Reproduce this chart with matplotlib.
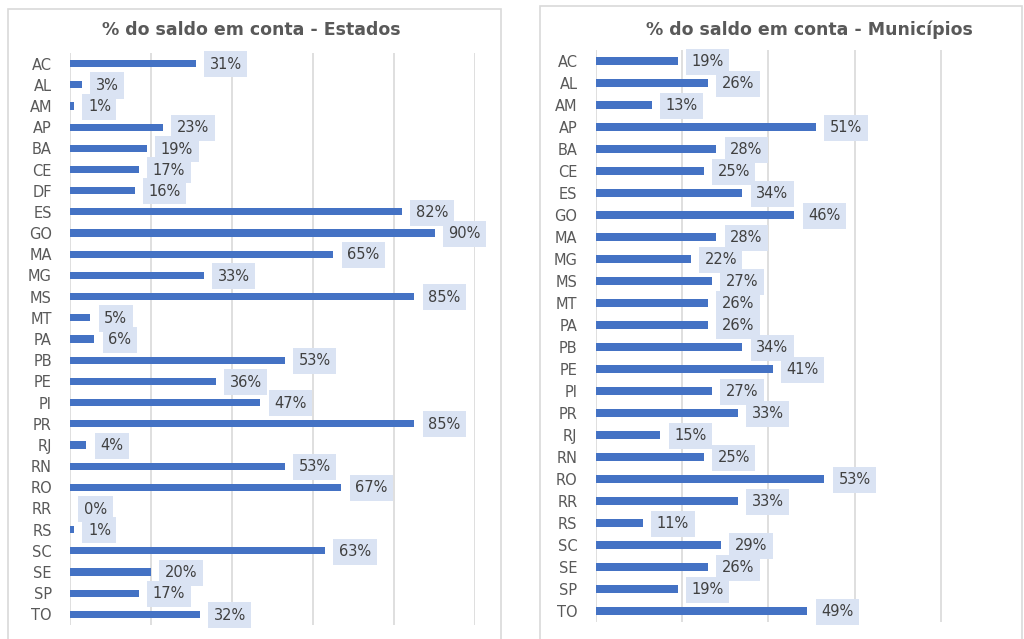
import matplotlib
matplotlib.use("Agg")
import matplotlib.pyplot as plt
from matplotlib.patches import Rectangle

plt.rcParams['font.family'] = ['DejaVu Sans']

# % do saldo em conta - Estados
uf_estados = ['AC', 'AL', 'AM', 'AP', 'BA', 'CE', 'DF', 'ES', 'GO', 'MA', 'MG', 'MS', 'MT', 'PA',
              'PB', 'PE', 'PI', 'PR', 'RJ', 'RN', 'RO', 'RR', 'RS', 'SC', 'SE', 'SP', 'TO']
pct_estados = [31, 3, 1, 23, 19, 17, 16, 82, 90, 65, 33, 85, 5, 6,
               53, 36, 47, 85, 4, 53, 67, 0, 1, 63, 20, 17, 32]

# % do saldo em conta - Municípios
uf_municipios = ['AC', 'AL', 'AM', 'AP', 'BA', 'CE', 'ES', 'GO', 'MA', 'MG', 'MS', 'MT', 'PA',
                 'PB', 'PE', 'PI', 'PR', 'RJ', 'RN', 'RO', 'RR', 'RS', 'SC', 'SE', 'SP', 'TO']
pct_municipios = [19, 26, 13, 51, 28, 25, 34, 46, 28, 22, 27, 26, 26,
                  34, 41, 27, 33, 15, 25, 53, 33, 11, 29, 26, 19, 49]

W, H = 1024, 639
BAR = '#4472c4'
GRID = '#d9d9d9'
LABEL_BG = '#dae3f3'
TXT = '#404040'
AX_TXT = '#595959'

fig = plt.figure(figsize=(W / 100, H / 100), dpi=100)
fig.patch.set_facecolor('white')


def px_box(x0, y0, x1, y1):
    # pixel box (top-left origin) -> figure fraction [left, bottom, width, height]
    return [x0 / W, 1 - y1 / H, (x1 - x0) / W, (y1 - y0) / H]


def panel(box, cats, vals, title, title_x, xmax):
    ax = fig.add_axes(box)
    y = list(range(len(cats)))
    frac = [v / 100 for v in vals]
    ax.barh(y, frac, height=0.34, color=BAR, zorder=3)
    ax.set_xlim(0, xmax)
    ax.set_ylim(len(cats) - 0.5, -0.5)
    ax.set_xticks([0, 0.2, 0.4, 0.6, 0.8, 1.0])
    ax.set_xticklabels([])
    ax.xaxis.grid(True, color=GRID, lw=1.2, zorder=0)
    ax.set_yticks(y)
    ax.set_yticklabels(cats, color=AX_TXT, fontsize=10.5)
    ax.tick_params(axis='both', length=0)
    ax.tick_params(axis='y', pad=13)
    for s in ax.spines.values():
        s.set_visible(False)
    for yi, f, v in zip(y, frac, vals):
        ax.annotate(f'{v}%', xy=(f, yi), xytext=(10, -0.5), textcoords='offset points',
                    va='center', ha='left', fontsize=10.5, color=TXT, zorder=4,
                    bbox=dict(boxstyle='square,pad=0.38', fc=LABEL_BG, ec='none'))
    fig.text(title_x / W, 1 - 30 / H, title, ha='center', va='center',
             fontsize=12.5, fontweight='bold', color=AX_TXT)
    return ax


# panel frames
fig.patches.append(Rectangle((8 / W, -0.05), 493 / W, 1.05 - 9 / H, transform=fig.transFigure,
                             fill=False, ec=GRID, lw=1.2))
fig.patches.append(Rectangle((540 / W, -0.05), 482 / W, 1.05 - 6 / H, transform=fig.transFigure,
                             fill=False, ec=GRID, lw=1.2))

panel(px_box(70, 53, 475, 625), uf_estados, pct_estados,
      '% do saldo em conta - Estados', 251, 1.0)
panel(px_box(595.5, 50, 1027.5, 622), uf_municipios, pct_municipios,
      '% do saldo em conta - Municípios', 809, 1.0)

fig.savefig('out.png', dpi=100)
